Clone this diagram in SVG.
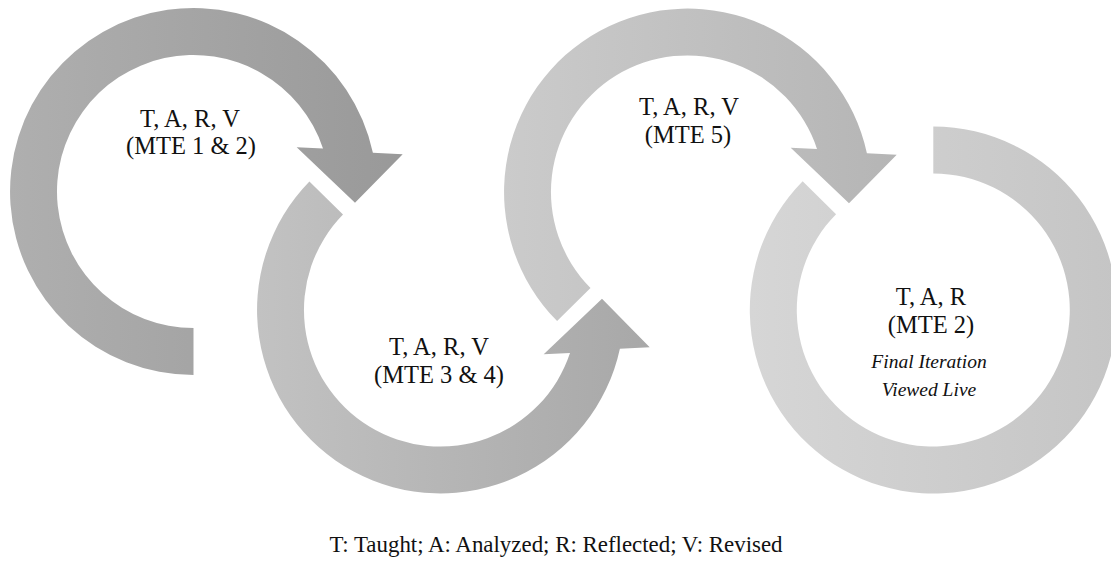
<svg xmlns="http://www.w3.org/2000/svg" width="1111" height="567" viewBox="0 0 1111 567">
  <style>
    text { font-family: 'Liberation Serif', 'Times New Roman', Times, serif; fill: #111111; text-anchor: middle; }
    .lbl { font-size: 24.5px; }
    .note { font-size: 19.5px; font-style: italic; }
    .foot { font-size: 22.9px; }
  </style>
  <defs>
    <linearGradient id="g1" gradientUnits="userSpaceOnUse" x1="10" y1="0" x2="403" y2="0">
      <stop offset="0" stop-color="#afafaf"/>
      <stop offset="1" stop-color="#999999"/>
    </linearGradient>
    <linearGradient id="g2" gradientUnits="userSpaceOnUse" x1="257" y1="0" x2="650" y2="0">
      <stop offset="0" stop-color="#c2c2c2"/>
      <stop offset="1" stop-color="#a8a8a8"/>
    </linearGradient>
    <linearGradient id="g3" gradientUnits="userSpaceOnUse" x1="504" y1="0" x2="897" y2="0">
      <stop offset="0" stop-color="#cbcbcb"/>
      <stop offset="1" stop-color="#b5b5b5"/>
    </linearGradient>
    <linearGradient id="g4" gradientUnits="userSpaceOnUse" x1="750" y1="0" x2="1117" y2="0">
      <stop offset="0" stop-color="#d6d6d6"/>
      <stop offset="1" stop-color="#c5c5c5"/>
    </linearGradient>
  </defs>
  <rect x="0" y="0" width="1111" height="567" fill="#ffffff"/>

  <g id="connectors">
    <path id="arrow1" fill="url(#g1)" d="M 193.5,375 A 183.5,183.5 0 1 1 372.9,152.75 L 402.7,154.3 L 355,202.7 L 296.7,147.3 L 323.0,148.4 A 136.5,136.5 0 1 0 193.5,328 Z"/>
    <path id="arrow2" fill="url(#g2)" d="M 309.4,181.6 A 183.5,183.5 0 1 0 619.9,348.75 L 649.7,347.2 L 602,298.8 L 543.7,354.2 L 570,353.1 A 136.5,136.5 0 1 1 343.0,214.5 Z"/>
    <path id="arrow3" fill="url(#g3)" d="M 557.1,321.1 A 183.5,183.5 0 1 1 866.9,153.25 L 896.7,154.8 L 849,203.2 L 790.7,147.8 L 817,148.9 A 136.5,136.5 0 1 0 590.5,288.0 Z"/>
    <path id="arrow4" fill="url(#g4)" d="M 933.3,126.5 A 183.5,183.5 0 1 1 802.65,181.15 L 836.1,214.15 A 136.5,136.5 0 1 0 933.3,173.5 Z"/>
  </g>

  <g id="node1">
    <text class="lbl" x="190" y="126.5">T, A, R, V</text>
    <text class="lbl" x="191" y="154">(MTE 1 &amp; 2)</text>
  </g>
  <g id="node2">
    <text class="lbl" x="439" y="355">T, A, R, V</text>
    <text class="lbl" x="439" y="383">(MTE 3 &amp; 4)</text>
  </g>
  <g id="node3">
    <text class="lbl" x="689" y="115">T, A, R, V</text>
    <text class="lbl" x="688" y="143">(MTE 5)</text>
  </g>
  <g id="node4">
    <text class="lbl" x="931" y="305">T, A, R</text>
    <text class="lbl" x="931" y="333">(MTE 2)</text>
    <text class="note" x="929" y="368">Final Iteration</text>
    <text class="note" x="929" y="396">Viewed Live</text>
  </g>
  <g id="legend">
    <text class="foot" x="556" y="552">T: Taught; A: Analyzed; R: Reflected; V: Revised</text>
  </g>
</svg>
